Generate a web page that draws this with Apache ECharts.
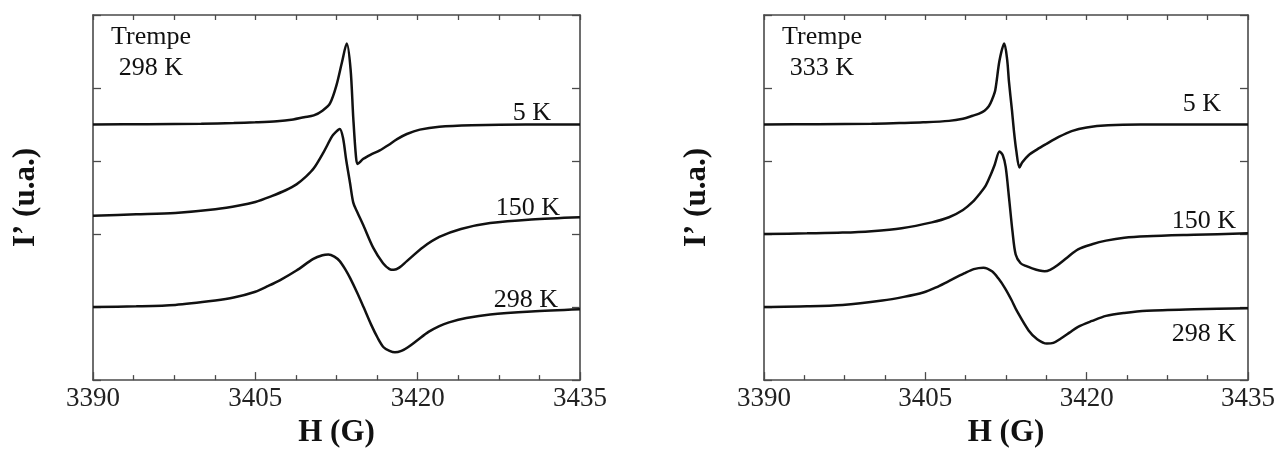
<!DOCTYPE html>
<html>
<head>
<meta charset="utf-8">
<script src="https://cdn.jsdelivr.net/npm/echarts@6/dist/echarts.min.js"></script>
<style>
html,body{margin:0;padding:0;background:#fff;}
#chart{width:1278px;height:453px;}
</style>
</head>
<body>
<div id="chart"></div>
<script>
// ---- data (H in G, I' in arbitrary units, curves offset vertically) ----
var xTicks = [3390, 3405, 3420, 3435];
var panelTitles = ['Trempe\n298 K', 'Trempe\n333 K'];
var curveLabels = ['5 K', '150 K', '298 K'];

var left5K = [[3390,3.50],[3395,3.505],[3400,3.51],[3403,3.52],[3405,3.53],[3407,3.545],[3408.5,3.57],[3409.5,3.60],[3410.4,3.625],[3411.2,3.69],[3411.9,3.79],[3412.5,4.04],[3413,4.35],[3413.45,4.61],[3413.8,4.26],[3414.05,3.59],[3414.3,3.06],[3414.45,2.96],[3414.98,3.03],[3415.7,3.09],[3416.5,3.145],[3417.3,3.22],[3418.1,3.30],[3419,3.37],[3420.2,3.43],[3422,3.47],[3425,3.49],[3430,3.50],[3435,3.50]];
var left150K = [[3390,2.25],[3394,2.27],[3397.6,2.29],[3401.3,2.34],[3403.5,2.39],[3405,2.44],[3406.5,2.52],[3407.8,2.60],[3408.8,2.68],[3409.7,2.79],[3410.4,2.90],[3411.3,3.12],[3412.1,3.34],[3412.45,3.40],[3412.8,3.44],[3413.1,3.32],[3413.4,3.01],[3413.75,2.70],[3414.05,2.43],[3414.36,2.32],[3414.98,2.12],[3415.9,1.81],[3416.8,1.60],[3417.4,1.52],[3417.8,1.51],[3418.3,1.54],[3419,1.63],[3420.5,1.82],[3422,1.96],[3424,2.07],[3426.7,2.15],[3430.5,2.20],[3435,2.23]];
var left298K = [[3390,1.00],[3394,1.01],[3397.6,1.03],[3401.3,1.09],[3403,1.13],[3405,1.21],[3406.2,1.29],[3407.3,1.37],[3408.8,1.50],[3410.36,1.66],[3411.2,1.71],[3411.75,1.72],[3412.3,1.69],[3412.8,1.63],[3413.3,1.52],[3413.75,1.40],[3414.4,1.20],[3415,1.00],[3415.7,0.76],[3416.3,0.58],[3416.85,0.45],[3417.4,0.40],[3417.9,0.38],[3418.5,0.40],[3419.1,0.45],[3420,0.55],[3421,0.66],[3422,0.74],[3422.9,0.79],[3424.5,0.85],[3426.7,0.90],[3430.5,0.94],[3435,0.97]];

var right5K = [[3390,3.50],[3395,3.505],[3400,3.51],[3402.6,3.52],[3404.8,3.53],[3407.2,3.55],[3408.5,3.58],[3409.4,3.62],[3410,3.65],[3410.5,3.69],[3410.9,3.75],[3411.2,3.84],[3411.5,3.97],[3411.9,4.38],[3412.34,4.61],[3412.6,4.40],[3412.78,4.08],[3413.05,3.70],[3413.24,3.41],[3413.45,3.15],[3413.75,2.91],[3414.0,2.98],[3414.6,3.08],[3415.4,3.16],[3416.2,3.23],[3417.4,3.33],[3418.6,3.41],[3420,3.46],[3422,3.49],[3425,3.50],[3435,3.50]];
var right150K = [[3390,2.00],[3394,2.01],[3397.3,2.02],[3400,2.04],[3402.8,2.08],[3405.6,2.16],[3407.2,2.23],[3408.5,2.33],[3409.4,2.44],[3410.1,2.56],[3410.6,2.66],[3411.1,2.82],[3411.45,2.95],[3411.9,3.13],[3412.2,3.08],[3412.47,2.92],[3412.78,2.50],[3413.1,2.04],[3413.4,1.72],[3413.86,1.60],[3414.4,1.56],[3414.93,1.53],[3415.6,1.50],[3416.1,1.49],[3416.6,1.51],[3417.25,1.57],[3418.2,1.68],[3419.2,1.79],[3420.5,1.86],[3421.8,1.91],[3423.5,1.95],[3425.6,1.97],[3430,1.99],[3435,2.01]];
var right298K = [[3390,1.00],[3394,1.01],[3397.3,1.03],[3401,1.09],[3403,1.14],[3404.8,1.20],[3406,1.27],[3407.1,1.35],[3408.6,1.46],[3409.5,1.52],[3410.4,1.54],[3411.2,1.49],[3411.8,1.39],[3412.4,1.26],[3413,1.10],[3413.5,0.95],[3414.6,0.68],[3415.4,0.56],[3416.3,0.50],[3416.9,0.51],[3417.6,0.57],[3418.4,0.65],[3419.2,0.73],[3420.5,0.81],[3421.8,0.88],[3423.5,0.92],[3425.6,0.95],[3430,0.97],[3435,0.985]];

var panels = [[left5K, left150K, left298K], [right5K, right150K, right298K]];

// ---- layout ----
var FONT = '"Liberation Serif", "Times New Roman", serif';
var AX = '#4a4a4a';
var grids = [
  {left: 93, top: 15, width: 487, height: 373},
  {left: 764, top: 15, width: 486, height: 373}
];

var xAxes = [], yAxes = [], series = [], graphics = [];
grids.forEach(function (g, i) {
  var base = {
    gridIndex: i, type: 'value', min: xTicks[0], max: xTicks[xTicks.length - 1], interval: xTicks[1] - xTicks[0],
    axisLine: {show: true, onZero: false, lineStyle: {color: AX, width: 1.6}},
    splitLine: {show: false},
    minorTick: {show: true, splitNumber: 4, length: 5, lineStyle: {color: AX, width: 1.3}},
    axisTick: {show: true, inside: true, length: 8, lineStyle: {color: AX, width: 1.3}}
  };
  xAxes.push(Object.assign({}, base, {
    position: 'bottom',
    axisLabel: {show: true, color: '#222', fontFamily: FONT, fontSize: 27, margin: 5,
      formatter: function (v) { return String(v); }},
    name: 'H (G)', nameLocation: 'middle', nameGap: 34,
    nameTextStyle: {color: '#111', fontFamily: FONT, fontSize: 31, fontWeight: 'bold'}
  }));
  xAxes.push(Object.assign({}, base, {position: 'top', axisLabel: {show: false},
    axisTick: {show: true, inside: true, length: 5, lineStyle: {color: AX, width: 1.3}}}));
  var ybase = {
    gridIndex: i, type: 'value', min: 0, max: 5, interval: 1,
    axisLine: {show: true, onZero: false, lineStyle: {color: AX, width: 1.6}},
    splitLine: {show: false},
    axisTick: {show: true, inside: true, length: 8, lineStyle: {color: AX, width: 1.3}},
    axisLabel: {show: false}
  };
  yAxes.push(Object.assign({}, ybase, {position: 'left',
    name: 'I\u2019 (u.a.)', nameLocation: 'middle', nameGap: 52, nameRotate: 90,
    nameTextStyle: {color: '#111', fontFamily: FONT, fontSize: 31, fontWeight: 'bold'}}));
  yAxes.push(Object.assign({}, ybase, {position: 'right'}));

  panels[i].forEach(function (d, k) {
    series.push({
      type: 'line', xAxisIndex: i * 2, yAxisIndex: i * 2, data: d,
      showSymbol: false, smooth: 0.3,
      lineStyle: {color: '#111', width: 2.5}, silent: true, animation: false
    });
  });
});

// text annotations
var labelPos = [
  [{x: 551, y: 126}, {x: 560, y: 221}, {x: 558, y: 313}],
  [{x: 1221, y: 117}, {x: 1236, y: 234}, {x: 1236, y: 347}]
];
labelPos.forEach(function (arr, i) {
  arr.forEach(function (p, k) {
    graphics.push({type: 'text', style: {text: curveLabels[k], x: p.x, y: p.y,
      textAlign: 'right', textVerticalAlign: 'bottom', font: '26px ' + FONT, fill: '#111'}});
  });
});
var titlePos = [{x: 151, y: 22}, {x: 822, y: 22}];
titlePos.forEach(function (p, i) {
  graphics.push({type: 'text', style: {text: panelTitles[i], x: p.x, y: p.y,
    textAlign: 'center', textVerticalAlign: 'top', font: '26px ' + FONT, fill: '#111', lineHeight: 31}});
});

var chart = echarts.init(document.getElementById('chart'), null, {renderer: 'canvas'});
chart.setOption({
  animation: false,
  backgroundColor: '#fff',
  grid: grids,
  xAxis: xAxes,
  yAxis: yAxes,
  series: series,
  graphic: graphics
});
</script>
</body>
</html>
